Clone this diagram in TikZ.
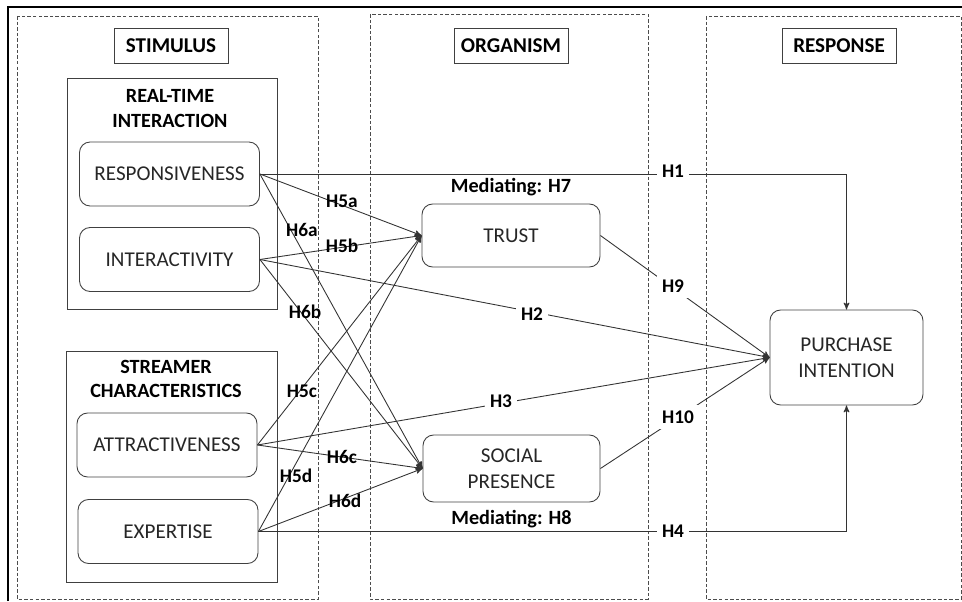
\documentclass[tikz,border=0pt]{standalone}
\usepackage{fontspec}
\setmainfont{Carlito}
\usetikzlibrary{arrows,positioning}

\begin{document}
\begin{tikzpicture}[x=0.02cm,y=-0.02cm,->,>=stealth',line width=0.5pt,
                    font=\fontsize{12}{14.5}\selectfont,
                    construct/.style={rectangle,rounded corners=6pt,draw=black!75,align=center,
                                      minimum width=3.6cm,minimum height=1.28cm,text=black!85},
                    stage/.style={rectangle,draw=black!75,minimum width=2.28cm,minimum height=0.7cm,
                                  font=\fontsize{12}{14}\selectfont\bfseries},
                    group/.style={-,draw=black!75},
                    panel/.style={-,draw=black!70,dash pattern=on 2pt off 1.2pt},
                    hyp/.style={font=\fontsize{11}{13}\selectfont\bfseries,inner sep=1pt},
                    cut/.style={hyp,fill=white,inner sep=3pt}]

  \useasboundingbox (0,0) rectangle (962,601);
  \draw[-,line width=1.6pt] (8,601) -- (8,7) -- (962,7);

  % stages
  \draw[panel] (17,16) rectangle (318,599);
  \draw[panel] (370,14) rectangle (648,599);
  \draw[panel] (706,16) rectangle (961,599);
  \node[stage] (stim) at (171,45.5) {STIMULUS};
  \node[stage] (org) at (511,45.5) {ORGANISM};
  \node[stage] (resp) at (839,45.5) {RESPONSE};

  % groups of stimuli
  \draw[group] (67,78) rectangle (277,309);
  \draw[group] (66,351) rectangle (277,582);
  \node[hyp,font=\fontsize{11.5}{14}\selectfont\bfseries,align=center] (rti) at (170,108.5) {REAL-TIME\\INTERACTION};
  \node[hyp,font=\fontsize{11.5}{14}\selectfont\bfseries,align=center] (sc) at (166,379) {STREAMER\\CHARACTERISTICS};

  \node[construct] (respons) at (169.5,174) {RESPONSIVENESS};
  \node[construct] (interact) at (169.5,259.5) {INTERACTIVITY};
  \node[construct] (attract) at (167,445) {ATTRACTIVENESS};
  \node[construct] (expert) at (168,531.5) {EXPERTISE};
  \node[construct,minimum width=3.56cm,minimum height=1.26cm] (trust) at (511,235.5) {TRUST};
  \node[construct,minimum width=3.54cm,minimum height=1.34cm] (social) at (511.5,468.5) {SOCIAL\\PRESENCE};
  \node[construct,minimum width=3.06cm,minimum height=1.9cm] (purchase) at (846.5,357.5) {PURCHASE\\INTENTION};

  \node[hyp,font=\fontsize{11.5}{13}\selectfont\bfseries] (med7) [above=3pt of trust] {Mediating: H7};
  \node[hyp,font=\fontsize{11.5}{13}\selectfont\bfseries] (med8) [below=3pt of social] {Mediating: H8};

  \path[every edge/.append style={draw=black!80}]
    (respons.east) edge (trust.west)
                   edge (social.west)
    (interact.east) edge (trust.west)
                    edge (social.west)
                    edge (purchase.west)
    (attract.east) edge (trust.west)
                   edge (social.west)
                   edge (purchase.west)
    (expert.east) edge (trust.west)
                  edge (social.west)
    (trust.east) edge (purchase.west)
    (social.east) edge (purchase.west);
  \draw[draw=black!80] (respons.east) -| (purchase.north);
  \draw[draw=black!80] (expert.east) -| (purchase.south);

  % hypotheses
  \node[hyp] (h5a) at (342,201) {H5a};
  \node[hyp] (h5b) at (342,246) {H5b};
  \node[hyp] (h6a) at (302,230) {H6a};
  \node[hyp] (h6b) at (305,312) {H6b};
  \node[hyp] (h5c) at (302,391) {H5c};
  \node[hyp] (h5d) at (296,476) {H5d};
  \node[hyp] (h6c) at (342,457) {H6c};
  \node[hyp] (h6d) at (345,501) {H6d};
  \node[cut] (h1) at (673,171) {H1};
  \node[cut] (h2) at (532,314) {H2};
  \node[cut] (h3) at (501,401) {H3};
  \node[cut] (h4) at (673,531) {H4};
  \node[cut] (h9) at (673,286) {H9};
  \node[cut] (h10) at (678,417) {H10};
\end{tikzpicture}
\end{document}
